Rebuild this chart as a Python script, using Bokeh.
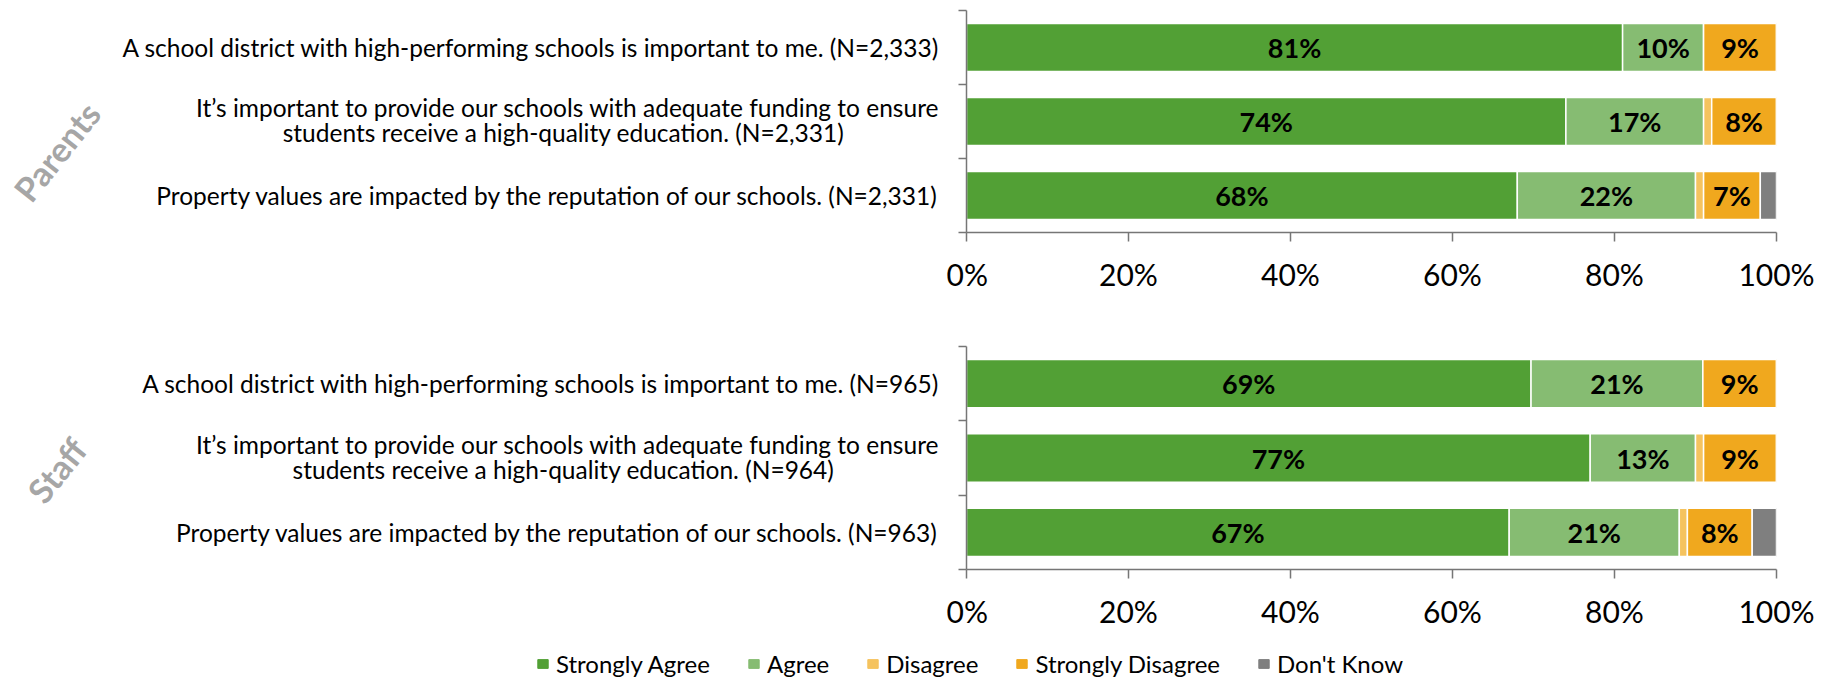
from bokeh.plotting import figure
from bokeh.layouts import column, row
from bokeh.models import (ColumnDataSource, FixedTicker, PrintfTickFormatter, Range1d,
                          Legend, LegendItem)
from bokeh.embed import file_html
from bokeh.resources import INLINE
from bokeh.core.properties import value

# ---------------- data ----------------
categories = ["Strongly Agree", "Agree", "Disagree", "Strongly Disagree", "Don't Know"]
colors = ["#52A035", "#86BC72", "#F5C35F", "#F0A81E", "#7F7F7F"]

statements = [
    "A school district with high-performing schools is important to me.",
    "It\u2019s important to provide our schools with adequate funding to ensure\nstudents receive a high-quality education.",
    "Property values are impacted by the reputation of our schools.",
]
parents_n = [2333, 2331, 2331]
staff_n = [965, 964, 963]

parents_sa = [81, 74, 68]
parents_a = [10, 17, 22]
parents_d = [0, 1, 1]
parents_sd = [9, 8, 7]
parents_dk = [0, 0, 2]

staff_sa = [69, 77, 67]
staff_a = [21, 13, 21]
staff_d = [0, 1, 1]
staff_sd = [9, 9, 8]
staff_dk = [0, 0, 3]

groups = ["Parents", "Staff"]
x_ticks = [0, 20, 40, 60, 80, 100]

FONT = "Lato"
keys = ["sa", "a", "d", "sd", "dk"]
AXIS_COLOR = "#767676"

LEFT_W = 946        # width of the label column
LABEL_RIGHT = 939   # right edge of statement labels
WRAP_CENTER = 563   # centre of wrapped (two-line) statement labels


def make_left(group, ns, frame_h, b_top, b_bottom, group_dy):
    L = figure(frame_width=LEFT_W, frame_height=frame_h, min_border_left=0,
               min_border_right=0, min_border_top=b_top, min_border_bottom=b_bottom,
               x_range=Range1d(0, LEFT_W), y_range=Range1d(0, 3),
               x_axis_location=None, y_axis_location=None,
               output_backend="svg", toolbar_location=None, tools="")
    L.xgrid.visible = False
    L.ygrid.visible = False
    L.outline_line_color = None
    nrow = len(ns)
    ypos = [nrow - i - 0.5 for i in range(nrow)]
    common = dict(text_font=value(FONT), text_font_size="24.5px", text_color="black",
                  text_baseline="middle")
    for i in range(nrow):
        lines = statements[i].split("\n")
        lines[-1] = "%s (N=%s)" % (lines[-1], format(ns[i], ","))
        if len(lines) == 1:
            L.text(x=[LABEL_RIGHT], y=[ypos[i]], text=lines, text_align="right", **common)
        else:
            L.text(x=[LABEL_RIGHT], y=[ypos[i]], text=[lines[0]], text_align="right",
                   y_offset=-14, **common)
            L.text(x=[WRAP_CENTER], y=[ypos[i]], text=[lines[1]], text_align="center",
                   y_offset=11, **common)
    L.text(x=[56], y=[1.5], text=[group], y_offset=group_dy, angle=0.9,
           text_font=value(FONT), text_font_style="bold", text_font_size="34px",
           text_color="#A6A6A6", text_align="center", text_baseline="middle")
    return L


def make_panel(series, ns, frame_h, b_top, b_bottom):
    p = figure(frame_width=810, frame_height=frame_h, min_border_left=20,
               min_border_right=41, min_border_top=b_top, min_border_bottom=b_bottom,
               x_range=Range1d(0, 100), y_range=Range1d(0, 3),
               output_backend="svg", toolbar_location=None, tools="")
    nrow = len(ns)
    ypos = [nrow - i - 0.5 for i in range(nrow)]
    data = {"y": ypos}
    totals = [sum(s[i] for s in series) for i in range(nrow)]
    for k, s in zip(keys, series):
        data[k] = [s[i] / totals[i] * 100 for i in range(nrow)]
    src = ColumnDataSource(data)
    p.hbar_stack(keys, y="y", height=0.65, color=colors, source=src,
                 line_color="white", line_width=1.5)

    # value labels
    lx, ly, lt = [], [], []
    for i in range(nrow):
        left = 0
        for k, s in zip(keys, series):
            w = data[k][i]
            if s[i] >= 5:
                lx.append(left + w / 2)
                ly.append(ypos[i])
                lt.append("%d%%" % s[i])
            left += w
    p.text(x=lx, y=ly, text=lt, text_font=value(FONT), text_font_style="bold",
           text_font_size="27px", text_align="center", text_baseline="middle",
           text_color="black")

    p.xgrid.visible = False
    p.ygrid.visible = False
    p.outline_line_color = None
    p.xaxis.ticker = FixedTicker(ticks=x_ticks)
    p.xaxis.formatter = PrintfTickFormatter(format="%d%%")
    p.xaxis.major_label_text_font = FONT
    p.xaxis.major_label_text_font_size = "30px"
    p.xaxis.major_label_text_color = "black"
    p.xaxis.major_tick_in = 0
    p.xaxis.major_tick_out = 9
    p.xaxis.minor_tick_out = 0
    p.xaxis.minor_tick_in = 0
    p.xaxis.major_label_standoff = 14
    p.xaxis.axis_line_color = AXIS_COLOR
    p.xaxis.axis_line_width = 1.5
    p.xaxis.major_tick_line_color = AXIS_COLOR
    p.xaxis.major_tick_line_width = 1.5

    p.yaxis.ticker = FixedTicker(ticks=[], minor_ticks=[0, 1, 2, 3])
    p.yaxis.major_tick_out = 0
    p.yaxis.major_tick_in = 0
    p.yaxis.minor_tick_out = 8
    p.yaxis.minor_tick_in = 0
    p.yaxis.major_label_standoff = 0
    p.yaxis.axis_line_color = AXIS_COLOR
    p.yaxis.axis_line_width = 1.5
    p.yaxis.minor_tick_line_color = AXIS_COLOR
    p.yaxis.minor_tick_line_width = 1.5
    return p


parents_series = [parents_sa, parents_a, parents_d, parents_sd, parents_dk]
staff_series = [staff_sa, staff_a, staff_d, staff_sd, staff_dk]

l1 = make_left(groups[0], parents_n, 222, 10, 76, 30)
p1 = make_panel(parents_series, parents_n, 222, 10, 76)
l2 = make_left(groups[1], staff_n, 223, 38, 53, 12)
p2 = make_panel(staff_series, staff_n, 223, 38, 53)

# legend strip (legend swatches come from zero-width stand-in bars off screen)
lg = figure(width=1817, height=56, min_border=0, x_range=Range1d(0, 1817),
            y_range=Range1d(0, 56), x_axis_location=None, y_axis_location=None,
            output_backend="svg", toolbar_location=None, tools="")
lg.xgrid.visible = False
lg.ygrid.visible = False
lg.outline_line_color = None
dummies = [lg.hbar(y=[-100], left=[0], right=[0], height=1, fill_color=c, line_color=c)
           for c in colors]
leg = Legend(items=[LegendItem(label=c, renderers=[r]) for c, r in zip(categories, dummies)],
             location=(536, 9), orientation="horizontal", padding=0, margin=0,
             spacing=37, label_standoff=7, glyph_width=13, glyph_height=11,
             label_height=24,
             label_text_font=FONT, label_text_font_size="24px", label_text_color="black",
             label_text_baseline="middle",
             border_line_color=None, background_fill_alpha=0)
lg.add_layout(leg)

layout = column(row(l1, p1, spacing=0), row(l2, p2, spacing=0), lg, spacing=0)
open("out.html", "w").write(file_html(layout, INLINE))
